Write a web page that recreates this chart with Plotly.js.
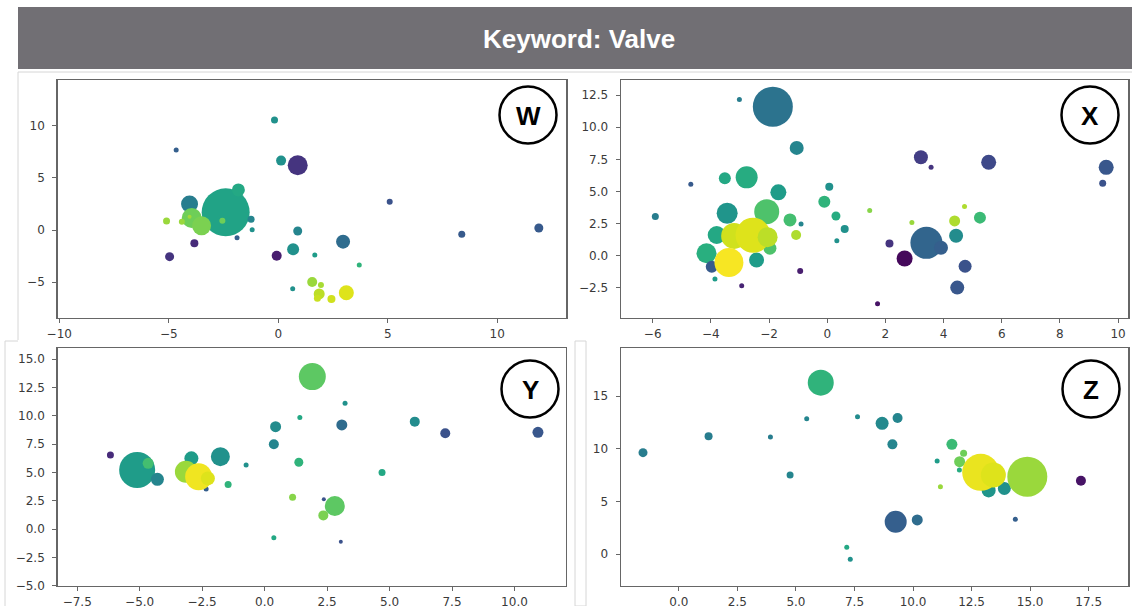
<!DOCTYPE html>
<html>
<head>
<meta charset="utf-8">
<script src="https://cdn.plot.ly/plotly-3.0.1.min.js"></script>
<style>
  html, body { margin: 0; padding: 0; background: #ffffff; }
  #chart { width: 1132px; height: 606px; }
</style>
</head>
<body>
<div id="chart"></div>
<script>
// ---------------- Data ----------------
// Panel W
const W_x     = [-4.05, -2.40, -1.82, -3.95, -3.50, -4.05, -5.10, -4.40, -2.55, -1.24, -1.19, -1.88, -3.83, -4.96, -0.17, -4.66, 0.13, 0.89, 5.09, 8.38, 11.90, -0.07, 0.89, 0.68, 2.96, 1.67, 3.70, 0.66, 1.55, 1.95, 1.87, 1.79, 2.43, 3.11];
const W_y     = [2.50, 1.70, 3.85, 1.15, 0.40, 1.28, 0.87, 0.80, 0.90, 1.03, 0.03, -0.74, -1.28, -2.56, 10.58, 7.69, 6.67, 6.22, 2.72, -0.42, 0.19, -2.47, -0.10, -1.86, -1.12, -2.40, -3.37, -5.64, -5.00, -5.29, -6.15, -6.57, -6.63, -6.03];
const W_size  = [17, 48, 13, 20, 19, 4, 7, 6, 6, 7, 5, 5, 8, 9, 7, 5, 10, 20, 6, 7, 9, 10, 9, 12, 14, 5, 5, 5, 10, 6, 11, 7, 8, 15];
const W_color = [0.42, 0.58, 0.60, 0.78, 0.80, 0.86, 0.85, 0.85, 0.78, 0.45, 0.50, 0.30, 0.12, 0.15, 0.50, 0.30, 0.50, 0.15, 0.25, 0.28, 0.28, 0.08, 0.45, 0.50, 0.35, 0.55, 0.65, 0.50, 0.85, 0.87, 0.90, 0.92, 0.93, 0.95];

// Panel X
const X_x     = [-1.87, -3.02, -1.05, 3.22, 3.57, 5.55, 9.59, 9.47, -4.69, -5.91, -3.52, -2.77, -1.68, -3.44, -2.08, -1.28, -3.80, -4.15, -2.43, -1.97, -3.97, -3.20, -2.55, -2.05, -3.38, -1.07, -0.90, -0.93, -3.86, -2.94, -0.10, 0.07, 0.30, 0.60, 0.33, 1.46, 1.73, 2.14, 2.66, 3.41, 3.91, 2.91, 4.38, 4.72, 5.25, 4.43, 4.74, 4.47];
const X_y     = [11.59, 12.16, 8.39, 7.66, 6.88, 7.27, 6.88, 5.65, 5.56, 3.05, 6.03, 6.10, 4.94, 3.31, 3.43, 2.79, 1.62, 0.20, -0.32, 0.59, -0.84, 1.55, 1.60, 1.45, -0.51, 1.62, 2.48, -1.17, -1.80, -2.32, 4.21, 5.37, 3.10, 2.08, 1.17, 3.52, -3.72, 0.96, -0.21, 1.01, 0.63, 2.60, 2.71, 3.83, 2.97, 1.56, -0.81, -2.47];
const X_size  = [40, 5, 14, 14, 5, 15, 15, 7, 5, 7, 12, 22, 16, 21, 25, 13, 18, 20, 15, 13, 12, 26, 35, 20, 29, 10, 5, 6, 5, 5, 12, 8, 9, 8, 5, 5, 5, 8, 16, 32, 14, 5, 11, 5, 12, 14, 13, 14];
const X_color = [0.38, 0.42, 0.45, 0.18, 0.15, 0.22, 0.27, 0.25, 0.28, 0.42, 0.60, 0.62, 0.55, 0.52, 0.72, 0.70, 0.60, 0.63, 0.55, 0.72, 0.28, 0.93, 0.95, 0.90, 0.99, 0.88, 0.45, 0.08, 0.55, 0.10, 0.65, 0.50, 0.62, 0.50, 0.50, 0.82, 0.05, 0.15, 0.02, 0.32, 0.30, 0.85, 0.88, 0.88, 0.68, 0.48, 0.25, 0.27];

// Panel Y
const Y_x     = [1.91, 3.22, 1.41, 0.44, 3.09, 6.01, 7.23, 10.94, 0.37, -6.17, -5.10, -4.66, -4.29, -2.93, -1.77, -3.15, -2.34, -2.64, -2.27, -1.46, -0.74, 1.37, 4.70, 1.12, 2.37, 2.81, 2.35, 0.37, 3.05];
const Y_y     = [13.47, 11.11, 9.85, 9.05, 9.20, 9.49, 8.46, 8.55, 7.49, 6.55, 5.22, 5.81, 4.40, 6.25, 6.40, 5.07, 3.54, 4.63, 4.48, 3.95, 5.66, 5.90, 4.99, 2.81, 2.63, 2.04, 1.21, -0.76, -1.11];
const Y_size  = [27, 5, 5, 11, 11, 10, 10, 11, 10, 7, 36, 11, 13, 14, 19, 22, 5, 27, 14, 7, 5, 9, 7, 7, 4, 20, 10, 5, 4];
const Y_color = [0.75, 0.50, 0.60, 0.48, 0.35, 0.48, 0.25, 0.27, 0.45, 0.12, 0.55, 0.70, 0.45, 0.55, 0.50, 0.85, 0.30, 0.98, 0.95, 0.65, 0.50, 0.65, 0.60, 0.82, 0.25, 0.75, 0.80, 0.60, 0.25];

// Panel Z
const Z_x     = [6.06, 5.46, 7.63, 8.68, 9.34, 1.27, 3.91, -1.53, 9.12, 4.75, 11.66, 12.16, 11.03, 11.99, 11.98, 11.17, 13.23, 13.90, 12.89, 13.43, 14.88, 17.17, 14.37, 9.26, 10.18, 7.17, 7.32];
const Z_y     = [16.27, 12.85, 13.04, 12.41, 12.91, 11.17, 11.11, 9.62, 10.41, 7.50, 10.41, 9.56, 8.83, 8.77, 7.97, 6.39, 6.04, 6.23, 7.75, 7.50, 7.34, 6.96, 3.29, 3.07, 3.23, 0.63, -0.51];
const Z_size  = [26, 5, 5, 13, 10, 8, 5, 9, 10, 7, 11, 7, 5, 11, 5, 5, 14, 13, 37, 25, 40, 10, 5, 22, 11, 5, 5];
const Z_color = [0.65, 0.45, 0.48, 0.47, 0.45, 0.42, 0.42, 0.42, 0.45, 0.45, 0.68, 0.78, 0.55, 0.78, 0.62, 0.85, 0.52, 0.50, 0.97, 0.95, 0.85, 0.05, 0.30, 0.30, 0.35, 0.60, 0.50];

const panelLetters = ["W", "X", "Y", "Z"];
const titleText = "Keyword: Valve";

// ---------------- Layout helpers (pixel -> paper) ----------------
const PW = 1132, PH = 606;
const px = v => v / PW;
const py = v => 1 - v / PH;

function trace(xs, ys, sizes, colors, xa, ya) {
  return {
    type: "scatter", mode: "markers", x: xs, y: ys, xaxis: xa, yaxis: ya,
    hoverinfo: "skip", showlegend: false,
    marker: { size: sizes, sizemode: "diameter", color: colors, colorscale: "Viridis",
              cmin: 0, cmax: 1, line: { width: 0 }, opacity: 1 }
  };
}

const data = [
  trace(W_x, W_y, W_size, W_color, "x", "y"),
  trace(X_x, X_y, X_size, X_color, "x2", "y2"),
  trace(Y_x, Y_y, Y_size, Y_color, "x3", "y3"),
  trace(Z_x, Z_y, Z_size, Z_color, "x4", "y4")
];

const axisBase = {
  showline: true, mirror: true, linecolor: "#666666", linewidth: 1.5,
  ticks: "outside", ticklen: 4, tickwidth: 1, tickcolor: "#666666",
  showgrid: false, zeroline: false, fixedrange: true,
  tickfont: { family: "DejaVu Sans", size: 12, color: "#3a3a3a" }
};
function ax(extra) { return Object.assign({}, axisBase, extra); }
function yax(extra) { return Object.assign({}, axisBase, { ticklabelstandoff: 5 }, extra); }

const topDom = [py(317.7), py(80)];
const botDom = [py(585.7), py(348.3)];
const leftDom = [px(57.7), px(566)];
const rightDom = [px(621), px(1128)];

const circles = [[528, 115], [1090, 115], [530, 389], [1091, 389]];
const R = 28.5;

const shapes = [
  // title banner
  { type: "rect", xref: "paper", yref: "paper", x0: px(18), x1: 1, y0: py(69), y1: py(7),
    fillcolor: "#716f74", line: { width: 0 }, layer: "below" },
  // faint screenshot edges
  { type: "line", xref: "paper", yref: "paper", x0: px(18), x1: 1, y0: py(72), y1: py(72), line: { color: "#d6d6d6", width: 1 } },
  { type: "line", xref: "paper", yref: "paper", x0: px(18), x1: px(18), y0: py(72), y1: py(340), line: { color: "#d6d6d6", width: 1 } },
  { type: "line", xref: "paper", yref: "paper", x0: px(5), x1: px(18), y0: py(341), y1: py(341), line: { color: "#d6d6d6", width: 1 } },
  { type: "line", xref: "paper", yref: "paper", x0: px(5), x1: px(5), y0: py(341), y1: 0, line: { color: "#d6d6d6", width: 1 } },
  { type: "rect", xref: "paper", yref: "paper", x0: px(575), x1: px(586), y0: 0, y1: py(341), line: { color: "#d6d6d6", width: 1 } }
];
circles.forEach(c => {
  shapes.push({ type: "circle", xref: "paper", yref: "paper",
    x0: px(c[0] - R), x1: px(c[0] + R), y0: py(c[1] + R), y1: py(c[1] - R),
    line: { color: "#000000", width: 2.5 } });
});

const annotations = [
  { text: "<b>" + titleText + "</b>", xref: "paper", yref: "paper", x: px(579), y: py(39),
    xanchor: "center", yanchor: "middle", showarrow: false,
    font: { family: "Liberation Sans", size: 26, color: "#ffffff" } }
];
panelLetters.forEach((L, i) => {
  annotations.push({ text: "<b>" + L + "</b>", xref: "paper", yref: "paper",
    x: px(circles[i][0]), y: py(circles[i][1] + 1), xanchor: "center", yanchor: "middle",
    showarrow: false, font: { family: "Liberation Sans", size: 26, color: "#000000" } });
});

const layout = {
  width: PW, height: PH, margin: { l: 0, r: 0, t: 0, b: 0 },
  paper_bgcolor: "#ffffff", plot_bgcolor: "#ffffff", showlegend: false,
  xaxis:  ax({ domain: leftDom,  anchor: "y",  range: [-10.07, 13.14], tick0: 0, dtick: 5 }),
  yaxis:  yax({ domain: topDom,  anchor: "x",  range: [-8.43, 14.42],  tick0: 0, dtick: 5 }),
  xaxis2: ax({ domain: rightDom, anchor: "y2", range: [-7.09, 10.34],  tick0: 0, dtick: 2 }),
  yaxis2: yax({ domain: topDom,  anchor: "x2", range: [-4.81, 13.67],  tick0: 0, dtick: 2.5, tickformat: ".1f" }),
  xaxis3: ax({ domain: [px(57.7), px(565.7)], anchor: "y3", range: [-8.28, 12.05], tick0: 0, dtick: 2.5, tickformat: ".1f" }),
  yaxis3: yax({ domain: botDom,  anchor: "x3", range: [-5.0, 15.97],   tick0: 0, dtick: 2.5, tickformat: ".1f" }),
  xaxis4: ax({ domain: rightDom, anchor: "y4", range: [-2.47, 19.18],  tick0: 0, dtick: 2.5, tickformat: ".1f" }),
  yaxis4: yax({ domain: botDom,  anchor: "x4", range: [-3.01, 19.53],  tick0: 0, dtick: 5 }),
  shapes: shapes,
  annotations: annotations
};

Plotly.newPlot("chart", data, layout, { displayModeBar: false, staticPlot: true });
</script>
</body>
</html>
